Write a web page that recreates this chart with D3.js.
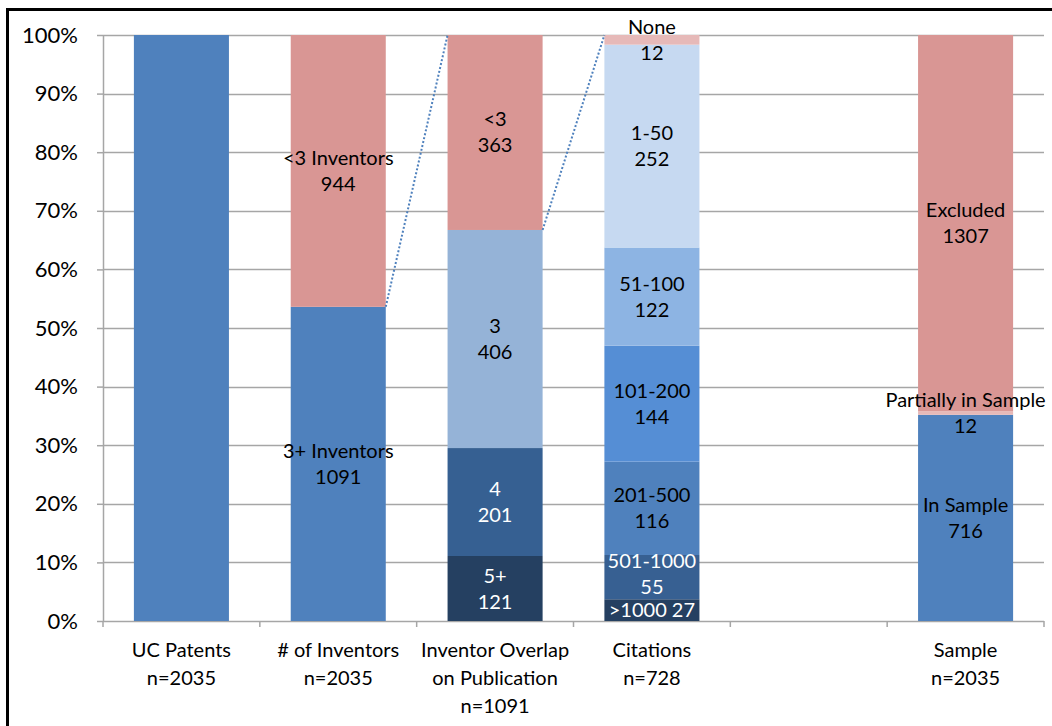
<!DOCTYPE html>
<html>
<head>
<meta charset="utf-8">
<script src="https://cdn.jsdelivr.net/npm/d3@7"></script>
<style>
  html, body { margin: 0; padding: 0; background: #fff; }
  svg { display: block; font-family: Lato, "Open Sans", sans-serif; }
</style>
</head>
<body>
<svg id="chart" width="1052" height="726"></svg>
<script>
// Column categories (two/three-line axis labels)
const categories = [
  ["UC Patents", "n=2035"],
  ["# of Inventors", "n=2035"],
  ["Inventor Overlap", "on Publication", "n=1091"],
  ["Citations", "n=728"],
  [""],
  ["Sample", "n=2035"]
];

// Stacked segments per column, bottom to top
const patentNames  = [""];
const patentValues = [2035];

const inventorNames  = ["3+ Inventors", "<3 Inventors"];
const inventorValues = [1091, 944];

const overlapNames  = ["5+", "4", "3", "<3"];
const overlapValues = [121, 201, 406, 363];

const citationNames  = [">1000", "501-1000", "201-500", "101-200", "51-100", "1-50", "None"];
const citationValues = [27, 55, 116, 144, 122, 252, 12];

const sampleNames  = ["In Sample", "Partially in Sample", "Excluded"];
const sampleValues = [716, 12, 1307];

const yTicks = [0, 0.1, 0.2, 0.3, 0.4, 0.5, 0.6, 0.7, 0.8, 0.9, 1.0];

// Styling per segment
const patentColors   = ["#4F81BD"];
const inventorColors = ["#4F81BD", "#D99694"];
const overlapColors  = ["#254061", "#366092", "#95B3D7", "#D99694"];
const citationColors = ["#254061", "#376092", "#4F81BD", "#558ED5", "#8DB4E3", "#C6D9F1", "#E6B9B8"];
const sampleColors   = ["#4F81BD", "#E6B9B8", "#D99694"];

const overlapText  = ["#fff", "#fff", "#000", "#000"];
const citationText = ["#fff", "#fff", "#000", "#000", "#000", "#000", "#000"];

const columns = [
  { cat: 0, names: patentNames,   values: patentValues,   colors: patentColors,   text: ["#000"], showLabels: false },
  { cat: 1, names: inventorNames, values: inventorValues, colors: inventorColors, text: ["#000", "#000"], showLabels: true },
  { cat: 2, names: overlapNames,  values: overlapValues,  colors: overlapColors,  text: overlapText, showLabels: true },
  { cat: 3, names: citationNames, values: citationValues, colors: citationColors, text: citationText, showLabels: true, singleLine: [0], nudge: { 1: -3 } },
  { cat: 5, names: sampleNames,   values: sampleValues,   colors: sampleColors,   text: ["#000", "#000", "#000"], showLabels: true }
];

const svg = d3.select("#chart");
const margin = { left: 103, right: 1044, top: 35, bottom: 621 };
const fontSize = 20;

const x = d3.scaleBand()
  .domain(d3.range(categories.length))
  .range([margin.left, margin.right])
  .paddingInner(0.394)
  .paddingOuter(0.197);

const y = d3.scaleLinear().domain([0, 1]).range([margin.bottom, margin.top]);

// Outer frame
svg.append("rect")
  .attr("x", 7.5).attr("y", 9.5)
  .attr("width", 1100).attr("height", 800)
  .attr("fill", "none").attr("stroke", "#000").attr("stroke-width", 3);

// Horizontal gridlines
svg.append("g")
  .selectAll("line")
  .data(yTicks.filter(d => d > 0))
  .join("line")
  .attr("x1", margin.left).attr("x2", margin.right)
  .attr("y1", d => Math.round(y(d)) + 0.5).attr("y2", d => Math.round(y(d)) + 0.5)
  .attr("stroke", "#A6A6A6").attr("stroke-width", 1.5);

// Y axis
const yAxis = svg.append("g")
  .attr("transform", `translate(${margin.left},0)`)
  .call(d3.axisLeft(y).tickValues(yTicks).tickFormat(d3.format(".0%")).tickSizeInner(6).tickSizeOuter(0).tickPadding(19));
yAxis.select(".domain").attr("stroke", "#A6A6A6").attr("stroke-width", 1.5);
yAxis.selectAll(".tick line").attr("stroke", "#A6A6A6").attr("stroke-width", 1.5);
yAxis.selectAll(".tick text")
  .attr("font-size", 22).attr("fill", "#000")
  .attr("font-family", "Lato, sans-serif");

// X axis baseline and slot separators
const slotEdges = d3.range(categories.length + 1).map(i => margin.left + i * x.step());
svg.append("line")
  .attr("x1", margin.left).attr("x2", margin.right)
  .attr("y1", margin.bottom + 0.5).attr("y2", margin.bottom + 0.5)
  .attr("stroke", "#A6A6A6").attr("stroke-width", 1.5);
svg.append("g")
  .selectAll("line")
  .data(slotEdges)
  .join("line")
  .attr("x1", d => d).attr("x2", d => d)
  .attr("y1", margin.bottom).attr("y2", margin.bottom + 6)
  .attr("stroke", "#A6A6A6").attr("stroke-width", 1.5);

// Category labels
const catG = svg.append("g");
categories.forEach((lines, i) => {
  const t = catG.append("text")
    .attr("x", x(i) + x.bandwidth() / 2)
    .attr("y", 657)
    .attr("text-anchor", "middle")
    .attr("font-size", fontSize)
    .attr("fill", "#000");
  lines.forEach((ln, j) => {
    t.append("tspan")
      .attr("x", x(i) + x.bandwidth() / 2)
      .attr("dy", j === 0 ? 0 : 28)
      .text(ln);
  });
});

// Stacked bars
const barsG = svg.append("g");
const labelsG = svg.append("g");
const stacks = {};
columns.forEach(col => {
  const total = d3.sum(col.values);
  let cum = 0;
  const segs = col.values.map((v, i) => {
    const s = { y0: cum / total, y1: (cum + v) / total, v, i };
    cum += v;
    return s;
  });
  stacks[col.cat] = segs;

  barsG.append("g")
    .selectAll("rect")
    .data(segs)
    .join("rect")
    .attr("x", x(col.cat))
    .attr("width", x.bandwidth())
    .attr("y", d => y(d.y1))
    .attr("height", d => y(d.y0) - y(d.y1))
    .attr("fill", d => col.colors[d.i]);

  if (!col.showLabels) return;
  segs.forEach(s => {
    const cx = x(col.cat) + x.bandwidth() / 2;
    const cy = y((s.y0 + s.y1) / 2) + ((col.nudge && col.nudge[s.i]) || 0);
    const t = labelsG.append("text")
      .attr("text-anchor", "middle")
      .attr("font-size", fontSize)
      .attr("fill", col.text[s.i]);
    if (col.singleLine && col.singleLine.includes(s.i)) {
      t.attr("x", cx).attr("y", cy + 7).text(`${col.names[s.i]} ${s.v}`);
    } else {
      t.append("tspan").attr("x", cx).attr("y", cy - 6).text(col.names[s.i]);
      t.append("tspan").attr("x", cx).attr("y", cy + 20).text(s.v);
    }
  });
});

// Dotted connectors linking a segment to the column that breaks it down
const connectors = [
  { from: 1, seg: 0, to: 2 },
  { from: 2, seg: 2, to: 3 }
];
svg.append("g")
  .selectAll("line")
  .data(connectors)
  .join("line")
  .attr("x1", d => x(d.from) + x.bandwidth())
  .attr("y1", d => y(stacks[d.from][d.seg].y1))
  .attr("x2", d => x(d.to))
  .attr("y2", y(1))
  .attr("stroke", "#4F81BD")
  .attr("stroke-width", 2)
  .attr("stroke-dasharray", "2,2");
</script>
</body>
</html>
